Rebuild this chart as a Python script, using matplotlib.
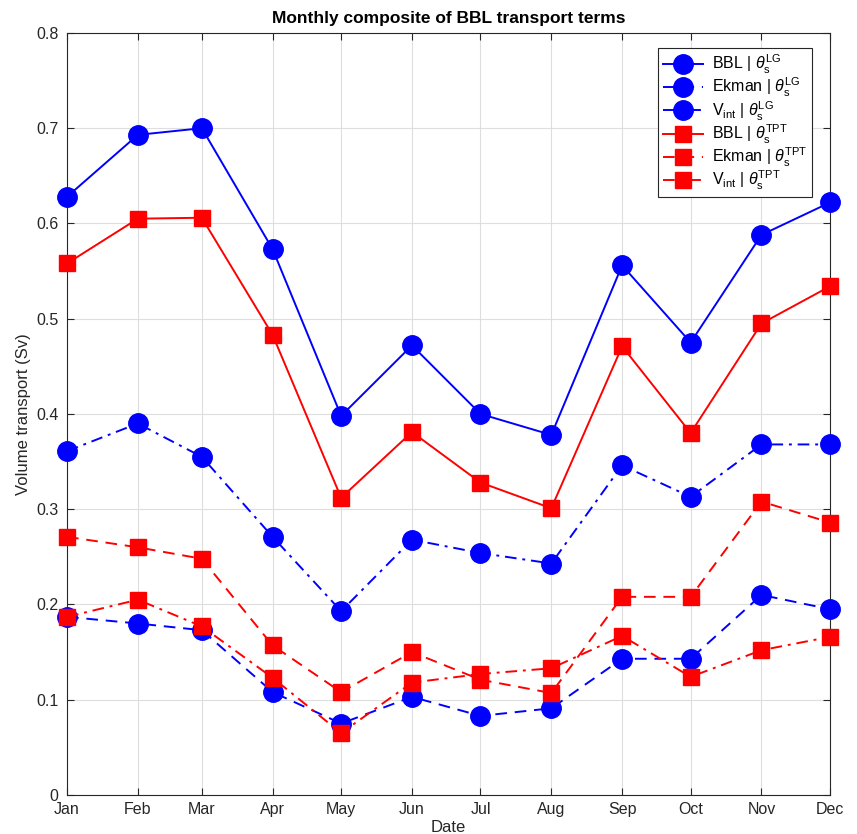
import datetime as dt

import matplotlib
matplotlib.use('Agg')
import matplotlib.pyplot as plt
import matplotlib.dates as mdates

plt.rcParams['font.family'] = ['Liberation Sans', 'DejaVu Sans']
plt.rcParams['mathtext.fontset'] = 'custom'
plt.rcParams['mathtext.rm'] = 'Liberation Sans'
plt.rcParams['mathtext.it'] = 'Liberation Sans:italic'

# monthly composite values (Sv)
months = [dt.datetime(2001, m, 1) for m in range(1, 13)]

bbl_lg = [0.628, 0.693, 0.700, 0.573, 0.398, 0.472, 0.400, 0.378, 0.556, 0.475, 0.588, 0.622]
ekman_lg = [0.187, 0.180, 0.173, 0.108, 0.075, 0.103, 0.083, 0.091, 0.143, 0.143, 0.210, 0.195]
vint_lg = [0.361, 0.390, 0.355, 0.271, 0.193, 0.268, 0.254, 0.243, 0.346, 0.313, 0.368, 0.368]

bbl_tpt = [0.558, 0.605, 0.606, 0.483, 0.312, 0.381, 0.328, 0.301, 0.471, 0.380, 0.495, 0.534]
ekman_tpt = [0.271, 0.260, 0.248, 0.157, 0.108, 0.150, 0.121, 0.107, 0.208, 0.208, 0.308, 0.286]
vint_tpt = [0.187, 0.205, 0.177, 0.123, 0.065, 0.118, 0.127, 0.133, 0.167, 0.124, 0.152, 0.166]

DASH = (0, (6, 4))
DASHDOT = (0, (6, 3, 1.5, 3))

fig = plt.figure(figsize=(8.57, 8.34), dpi=100)
ax = fig.add_axes([0.0782, 0.0468, 0.8903, 0.9137])

lw = 1.4
kw = dict(lw=lw, clip_on=False, zorder=3)
ax.plot(months, bbl_lg, '-', color='blue', marker='o', ms=14, **kw,
        label=r'BBL | $\theta_{\rm s}^{\rm LG}$')
ax.plot(months, ekman_lg, color='blue', ls=DASH, marker='o', ms=14, **kw,
        label=r'Ekman | $\theta_{\rm s}^{\rm LG}$')
ax.plot(months, vint_lg, color='blue', ls=DASHDOT, marker='o', ms=14, **kw,
        label=r'V$_{\rm int}$ | $\theta_{\rm s}^{\rm LG}$')
ax.plot(months, bbl_tpt, '-', color='red', marker='s', ms=11.5, **kw,
        label=r'BBL | $\theta_{\rm s}^{\rm TPT}$')
ax.plot(months, ekman_tpt, color='red', ls=DASH, marker='s', ms=11.5, **kw,
        label=r'Ekman | $\theta_{\rm s}^{\rm TPT}$')
ax.plot(months, vint_tpt, color='red', ls=DASHDOT, marker='s', ms=11.5, **kw,
        label=r'V$_{\rm int}$ | $\theta_{\rm s}^{\rm TPT}$')

ax.set_xlim(months[0], months[-1])
ax.set_ylim(0, 0.8)
ax.set_xticks(months)
ax.xaxis.set_major_formatter(mdates.DateFormatter('%b'))
ax.set_yticks([0, 0.1, 0.2, 0.3, 0.4, 0.5, 0.6, 0.7, 0.8])
ax.set_yticklabels(['0', '0.1', '0.2', '0.3', '0.4', '0.5', '0.6', '0.7', '0.8'])

axcol = '#262626'
for s in ax.spines.values():
    s.set_color(axcol)
    s.set_linewidth(0.8)
ax.tick_params(direction='in', length=5, width=0.8, colors=axcol, labelsize=11.5,
               top=True, right=True, labeltop=False, labelright=False)
ax.tick_params(axis='x', pad=5)
ax.tick_params(axis='y', pad=6)
ax.grid(True, color='#dedede', lw=0.8)
ax.set_axisbelow(True)

ax.set_xlabel('Date', fontsize=12, color=axcol, labelpad=2)
ax.set_ylabel('Volume transport (Sv)', fontsize=12, color=axcol, labelpad=4)
ax.set_title('Monthly composite of BBL transport terms', fontsize=12.5,
             fontweight='bold', pad=7)

leg = ax.legend(loc='upper right', fontsize=11.5, fancybox=False, framealpha=1,
                edgecolor=axcol, handlelength=2.5, handletextpad=0.6,
                labelspacing=0.0, borderpad=0.3, borderaxespad=0,
                bbox_to_anchor=(0.977, 0.98))
leg.get_frame().set_linewidth(0.8)
leg.set_zorder(5)

fig.savefig('out.png', dpi=100)
